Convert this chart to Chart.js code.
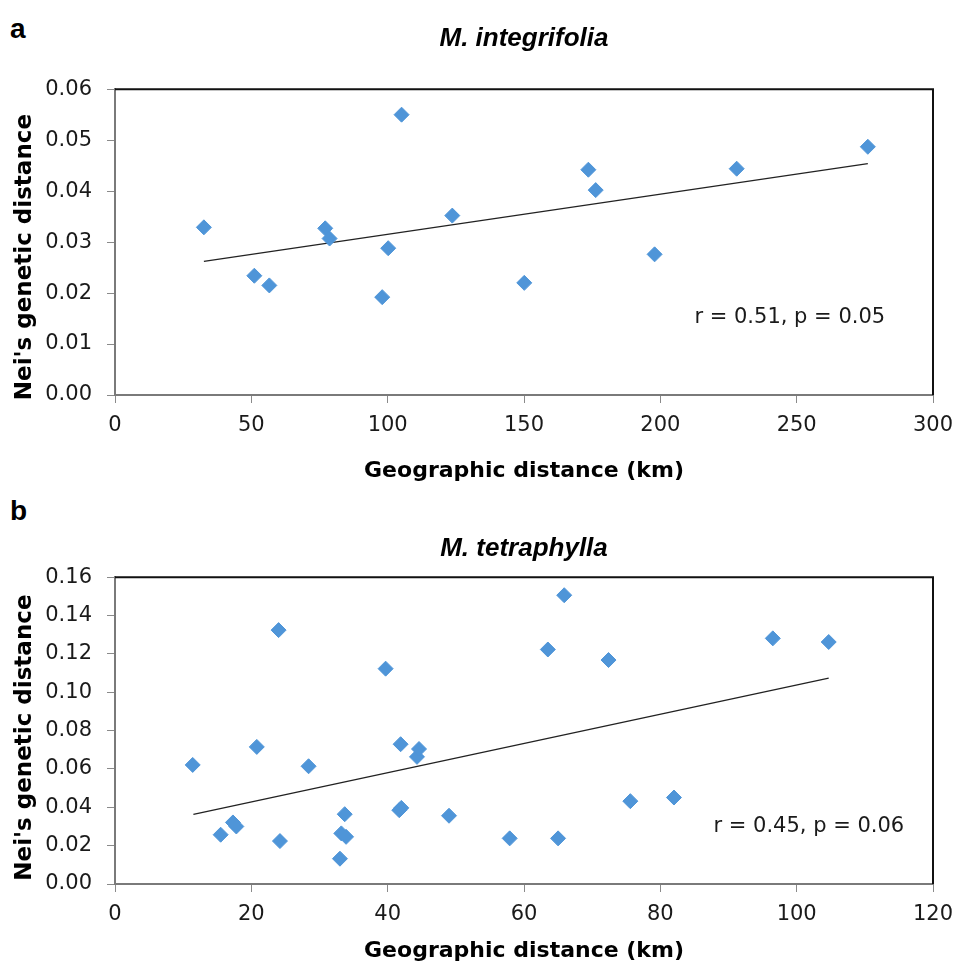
<!DOCTYPE html>
<html>
<head>
<meta charset="utf-8">
<script src="https://cdn.jsdelivr.net/npm/chart.js@4"></script>
<style>
    body { margin: 0; background: #fff; }
    #wrap { position: relative; width: 955px; height: 963px; background: #fff; }
    canvas { position: absolute; left: 0; }
    .panel { position: absolute; left: 10px; font: bold 28px "Liberation Sans", Arial, sans-serif; color: #000; line-height: 1; }
</style>
</head>
<body>
<div id="wrap">
    <div class="panel" style="top: 15px;">a</div>
    <canvas id="chartA" width="955" height="485" style="top: 0;"></canvas>
    <div class="panel" style="top: 497px;">b</div>
    <canvas id="chartB" width="955" height="483" style="top: 480px;"></canvas>
</div>
<script>
// M. integrifolia
const integrifoliaKm = [32.6, 51.1, 56.6, 77.1, 78.7, 98.0, 100.2, 105.1, 123.7, 150.1, 173.6, 176.3, 197.9, 228.0, 276.1];
const integrifoliaNei = [0.0329, 0.0234, 0.0215, 0.0327, 0.0307, 0.0192, 0.0288, 0.0550, 0.0352, 0.0220, 0.0442, 0.0402, 0.0276, 0.0444, 0.0487];
const integrifoliaTrendKm = [32.6, 276.1];
const integrifoliaTrendNei = [0.0262, 0.0454];
const integrifoliaXTicks = [0, 50, 100, 150, 200, 250, 300];
const integrifoliaYTicks = [0, 0.01, 0.02, 0.03, 0.04, 0.05, 0.06];

// M. tetraphylla
const tetraphyllaKm = [11.4, 15.5, 17.3, 17.8, 20.8, 24.0, 24.2, 28.4, 33.0, 33.2, 33.9, 33.7, 39.7, 41.7, 42.0, 41.9, 44.3, 44.6, 49.0, 57.9, 65.0, 63.5, 65.9, 72.4, 75.6, 82.0, 96.5, 104.7];
const tetraphyllaNei = [0.0621, 0.0257, 0.0321, 0.0300, 0.0715, 0.1324, 0.0224, 0.0614, 0.0132, 0.0264, 0.0246, 0.0364, 0.1123, 0.0385, 0.0397, 0.0729, 0.0663, 0.0704, 0.0356, 0.0238, 0.0238, 0.1223, 0.1506, 0.1168, 0.0432, 0.0451, 0.1281, 0.1262];
const tetraphyllaTrendKm = [11.5, 104.7];
const tetraphyllaTrendNei = [0.0363, 0.1074];
const tetraphyllaXTicks = [0, 20, 40, 60, 80, 100, 120];
const tetraphyllaYTicks = [0, 0.02, 0.04, 0.06, 0.08, 0.10, 0.12, 0.14, 0.16];

const xTitle = 'Geographic distance (km)';
const yTitle = "Nei's genetic distance";

Chart.defaults.font.family = '"DejaVu Sans", sans-serif';
Chart.defaults.color = '#1a1a1a';

// top and right edges of the plot box, y title and the r / p note
const boxPlugin = {
    id: 'box',
    afterDraw(chart, args, opts) {
        const { ctx, chartArea: a, scales } = chart;
        ctx.save();
        ctx.strokeStyle = '#111';
        ctx.lineWidth = 2;
        ctx.beginPath();
        ctx.moveTo(a.left, a.top);
        ctx.lineTo(a.right, a.top);
        ctx.lineTo(a.right, a.bottom);
        ctx.stroke();

        ctx.fillStyle = '#1a1a1a';
        ctx.font = '21px "DejaVu Sans", sans-serif';
        ctx.textAlign = 'left';
        ctx.textBaseline = 'middle';
        ctx.fillText(opts.note, scales.x.getPixelForValue(opts.noteX), scales.y.getPixelForValue(opts.noteY));

        // y axis title, sits a little below the middle of the box like the original
        ctx.fillStyle = '#000';
        ctx.font = 'bold 23px "DejaVu Sans", sans-serif';
        ctx.textAlign = 'center';
        ctx.translate(25, (a.top + a.bottom) / 2 + opts.yTitleShift);
        ctx.rotate(-Math.PI / 2);
        ctx.fillText(yTitle, 0, 0);
        ctx.restore();
    }
};

function makeChart(id, cfg) {
    return new Chart(document.getElementById(id), {
        type: 'scatter',
        data: {
            datasets: [{
                data: cfg.km.map((x, i) => ({ x: x, y: cfg.nei[i] })),
                backgroundColor: '#4f95d8',
                borderColor: '#4f95d8',
                pointStyle: 'rectRot',
                pointRadius: 7.5,
                order: 0
            }, {
                data: cfg.trendKm.map((x, i) => ({ x: x, y: cfg.trendNei[i] })),
                showLine: true,
                borderColor: '#222',
                borderWidth: 1.3,
                pointRadius: 0,
                order: 1
            }]
        },
        plugins: [boxPlugin],
        options: {
            responsive: false,
            animation: false,
            events: [],
            layout: { padding: { left: 0, right: 22, top: 0, bottom: 0 } },
            plugins: {
                legend: { display: false },
                tooltip: { enabled: false },
                title: {
                    display: true,
                    fullSize: false,
                    text: cfg.title,
                    color: '#000',
                    font: { family: '"Liberation Sans", Arial, sans-serif', size: 26, weight: 'bold', style: 'italic', lineHeight: 1.2 },
                    padding: cfg.titlePad
                },
                box: { note: cfg.note, noteX: cfg.noteX, noteY: cfg.noteY, yTitleShift: cfg.yTitleShift }
            },
            scales: {
                x: {
                    type: 'linear',
                    min: cfg.xTicks[0],
                    max: cfg.xTicks[cfg.xTicks.length - 1],
                    afterBuildTicks: s => { s.ticks = cfg.xTicks.map(v => ({ value: v })); },
                    afterFit: s => { s.height = cfg.xHeight; s.paddingLeft = 0; s.paddingRight = 0; },
                    grid: { drawOnChartArea: false, drawTicks: true, tickLength: 8, tickColor: '#8a8a8a' },
                    border: { color: '#7a7a7a', width: 2 },
                    ticks: { font: { size: 21 }, padding: 10, maxRotation: 0, callback: v => String(v) },
                    title: {
                        display: true,
                        text: xTitle,
                        color: '#000',
                        font: { family: '"DejaVu Sans", sans-serif', size: 22, weight: 'bold', lineHeight: 1 },
                        padding: { top: 0, bottom: cfg.xTitleBottom }
                    }
                },
                y: {
                    type: 'linear',
                    min: cfg.yTicks[0],
                    max: cfg.yTicks[cfg.yTicks.length - 1],
                    afterBuildTicks: s => { s.ticks = cfg.yTicks.map(v => ({ value: v })); },
                    afterFit: s => { s.width = 115; s.paddingTop = 0; s.paddingBottom = 0; },
                    grid: { drawOnChartArea: false, drawTicks: true, tickLength: 8, tickColor: '#8a8a8a' },
                    border: { color: '#7a7a7a', width: 2 },
                    ticks: { font: { size: 21 }, padding: 15, callback: v => v.toFixed(2) }
                }
            }
        }
    });
}

makeChart('chartA', {
    title: 'M. integrifolia',
    km: integrifoliaKm, nei: integrifoliaNei,
    trendKm: integrifoliaTrendKm, trendNei: integrifoliaTrendNei,
    xTicks: integrifoliaXTicks, yTicks: integrifoliaYTicks,
    titlePad: { top: 23, bottom: 35 },
    xHeight: 90, xTitleBottom: 3, yTitleShift: 15,
    note: 'r = 0.51, p = 0.05', noteX: 212.5, noteY: 0.0151
});

makeChart('chartB', {
    title: 'M. tetraphylla',
    km: tetraphyllaKm, nei: tetraphyllaNei,
    trendKm: tetraphyllaTrendKm, trendNei: tetraphyllaTrendNei,
    xTicks: tetraphyllaXTicks, yTicks: tetraphyllaYTicks,
    titlePad: { top: 53, bottom: 13 },
    xHeight: 79, xTitleBottom: 1, yTitleShift: 7,
    note: 'r = 0.45, p = 0.06', noteX: 87.8, noteY: 0.0298
});
</script>
</body>
</html>
